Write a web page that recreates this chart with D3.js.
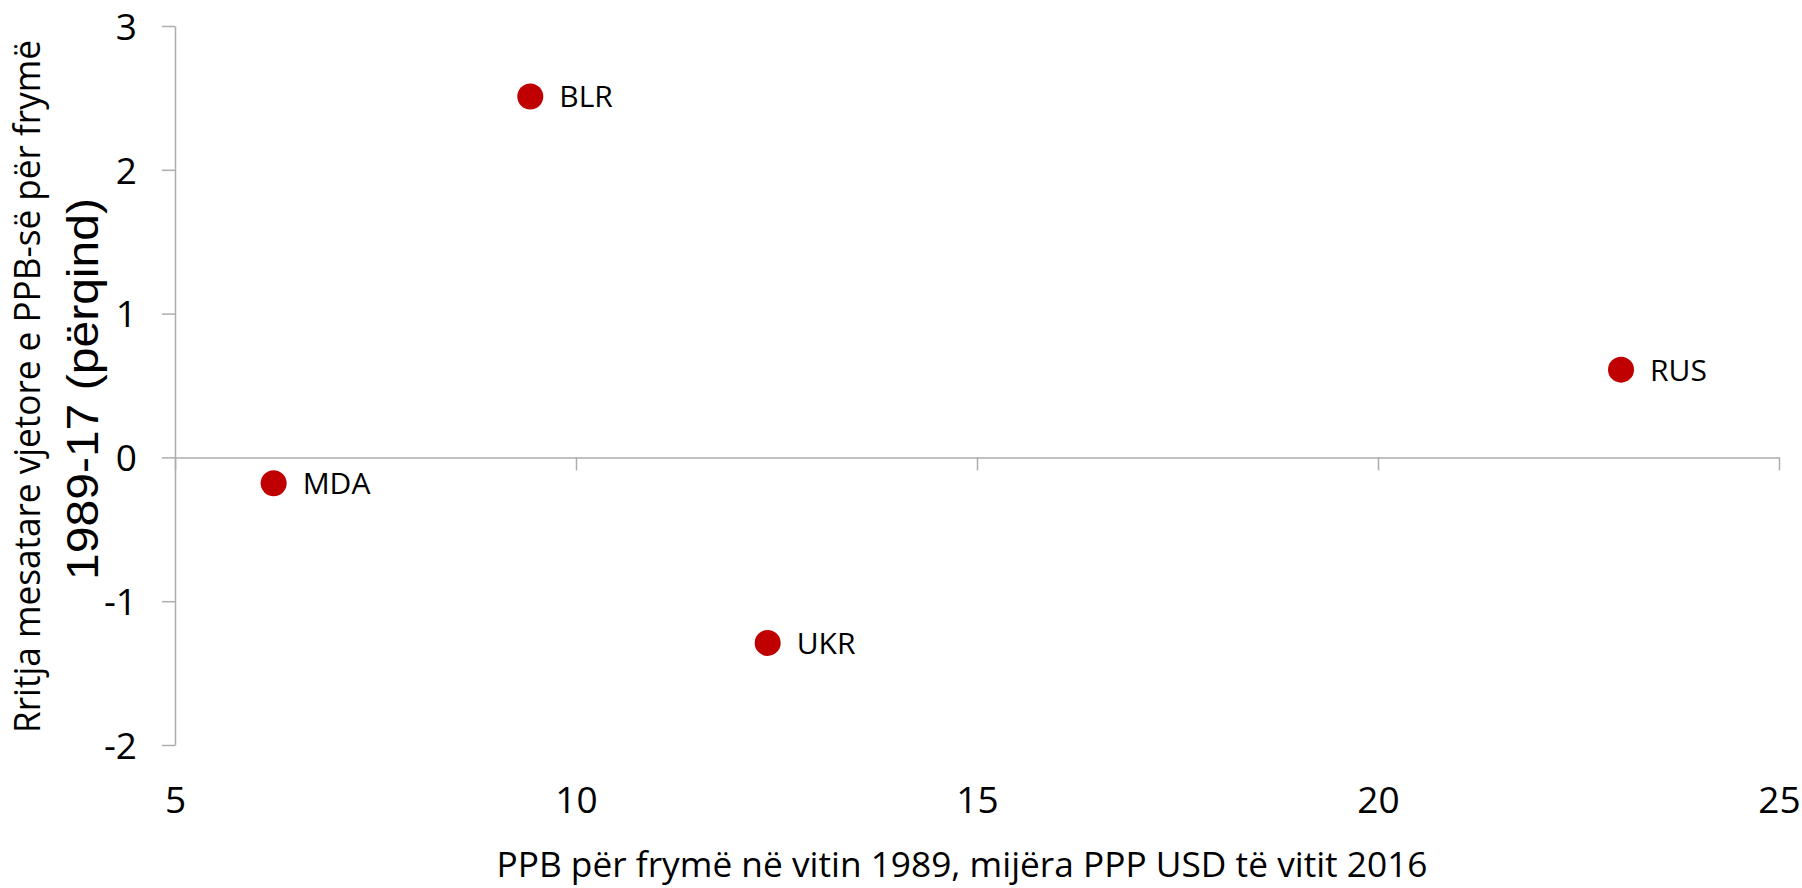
<!DOCTYPE html>
<html>
<head>
<meta charset="utf-8">
<script src="https://cdn.jsdelivr.net/npm/d3@7"></script>
<style>
  html, body { margin: 0; padding: 0; background: #fff; }
  svg { display: block; }
  text { font-family: "Open Sans", "Noto Sans", sans-serif; fill: #000; }
</style>
</head>
<body>
<div id="chart"></div>
<script>
// data
const countries = ['MDA', 'BLR', 'UKR', 'RUS'];
const gdp1989 = [6.23, 9.43, 12.39, 23.03];
const growth = [-0.18, 2.51, -1.29, 0.61];
const xTicks = [5, 10, 15, 20, 25];
const yTicks = [-2, -1, 0, 1, 2, 3];
const xTitle = 'PPB për frymë në vitin 1989, mijëra PPP USD të vitit 2016';
const yTitle1 = 'Rritja mesatare vjetore e PPB-së për frymë';
const yTitle2 = '1989-17 (përqind)';

const width = 1802,
      height = 888;
const axisColor = '#adadad';

const x = d3.scaleLinear()
      .domain([5, 25])
      .range([175, 1779]);

const y = d3.scaleLinear()
      .domain([-2, 3])
      .range([745, 26]);

const svg = d3.select('#chart').append('svg')
      .attr('width', width)
      .attr('height', height);

// y axis
const yAxis = svg.append('g')
      .attr('transform', `translate(${x(5)},0)`)
      .call(d3.axisLeft(y)
            .tickValues(yTicks)
            .tickFormat(d => String(d))
            .tickSize(13)
            .tickSizeOuter(0)
            .tickPadding(25));

// x axis sits on zero, labels go to the bottom
const xAxis = svg.append('g')
      .attr('transform', `translate(0,${y(0)})`)
      .call(d3.axisBottom(x)
            .tickValues(xTicks)
            .tickFormat(d => String(d))
            .tickSize(13)
            .tickSizeOuter(0));

[yAxis, xAxis].forEach(g => {
  g.selectAll('path, line')
    .attr('stroke', axisColor)
    .attr('stroke-width', 1.5);
  g.selectAll('text')
    .style('font-family', '"Open Sans", "Noto Sans", sans-serif')
    .attr('font-size', 37)
    .attr('fill', '#000');
});

yAxis.selectAll('text').attr('dy', '0.36em');
xAxis.selectAll('text')
  .attr('y', 813 - y(0))
  .attr('dy', 0);

// points
const pts = countries.map((name, i) => ({ name, x: gdp1989[i], y: growth[i] }));

svg.append('g').selectAll('circle')
  .data(pts)
  .enter()
  .append('circle')
  .attr('cx', d => x(d.x))
  .attr('cy', d => y(d.y))
  .attr('r', 13)
  .attr('fill', '#c00000');

svg.append('g').selectAll('text')
  .data(pts)
  .enter()
  .append('text')
  .attr('x', d => x(d.x) + 29)
  .attr('y', d => y(d.y) + 11)
  .attr('font-size', 30)
  .text(d => d.name);

// axis titles
svg.append('text')
  .attr('x', 962)
  .attr('y', 877)
  .attr('text-anchor', 'middle')
  .attr('font-size', 34)
  .attr('textLength', 931)
  .attr('lengthAdjust', 'spacingAndGlyphs')
  .text(xTitle);

svg.append('text')
  .attr('transform', 'translate(39.5,386.5) rotate(-90)')
  .attr('text-anchor', 'middle')
  .attr('font-size', 36)
  .attr('textLength', 693)
  .attr('lengthAdjust', 'spacingAndGlyphs')
  .text(yTitle1);

svg.append('text')
  .attr('transform', 'translate(98,389) rotate(-90)')
  .attr('text-anchor', 'middle')
  .style('font-family', '"Liberation Sans", Arial, sans-serif')
  .attr('font-size', 45)
  .attr('textLength', 382)
  .attr('lengthAdjust', 'spacingAndGlyphs')
  .text(yTitle2);
</script>
</body>
</html>
